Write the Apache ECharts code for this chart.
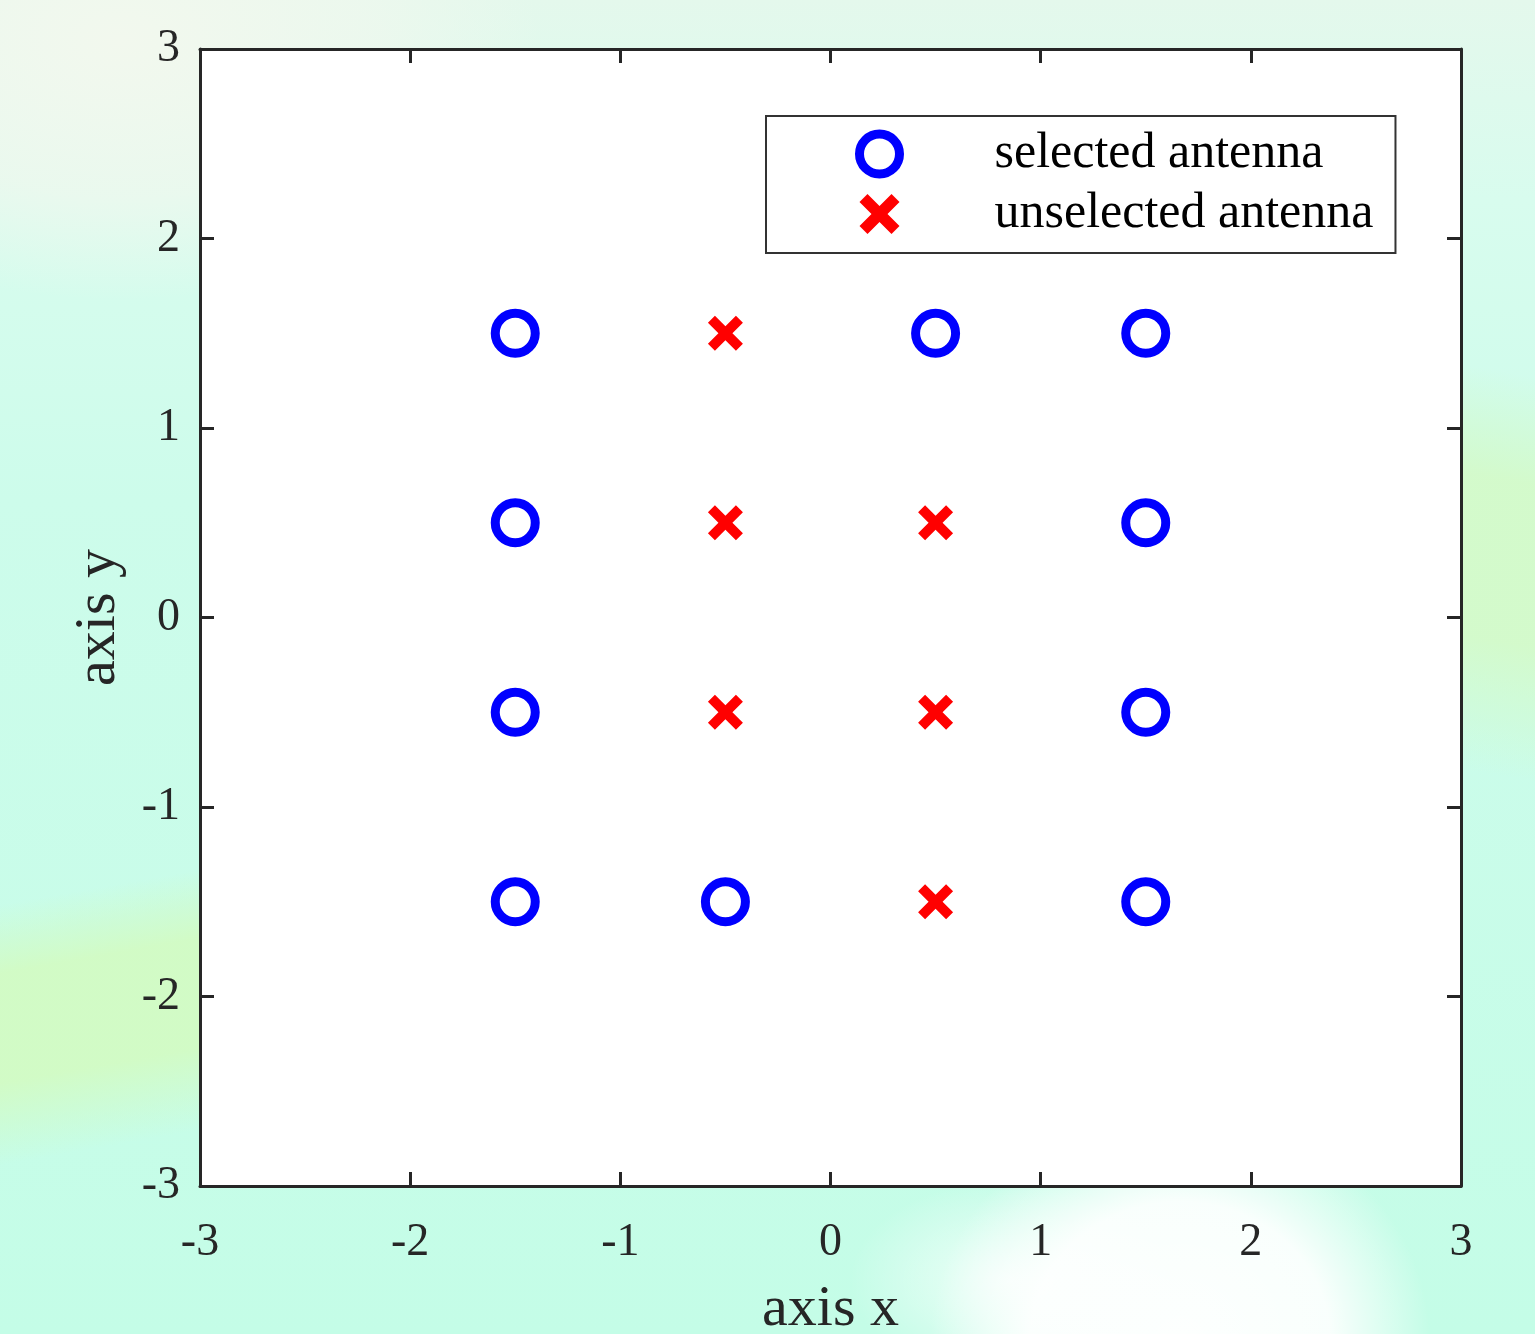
<!DOCTYPE html>
<html>
<head>
<meta charset="utf-8">
<script src="https://cdn.jsdelivr.net/npm/echarts@6/dist/echarts.min.js"></script>
<style>
  html, body { margin: 0; padding: 0; }
  body {
    width: 1535px;
    height: 1334px;
    overflow: hidden;
    background:
      radial-gradient(ellipse 250px 230px at 1180px 1340px, rgba(255,255,255,0.97) 0%, rgba(255,255,255,0.9) 60%, rgba(255,255,255,0) 100%),
      radial-gradient(ellipse 160px 100px at 1010px 1280px, rgba(255,255,255,0.75) 0%, rgba(255,255,255,0) 100%),
      linear-gradient(170deg, rgba(208,252,200,0) 66%, rgba(210,251,196,0.95) 71%, rgba(210,251,196,0.95) 79%, rgba(208,252,200,0) 85%) 0 0 / 210px 1334px no-repeat,
      linear-gradient(190deg, rgba(208,252,200,0) 28%, rgba(212,250,200,0.9) 36%, rgba(212,250,200,0.9) 48%, rgba(208,252,200,0) 58%) 1455px 0 / 80px 1334px no-repeat,
      radial-gradient(ellipse 420px 260px at 120px 40px, rgba(242,248,238,1) 0%, rgba(238,248,238,0.8) 60%, rgba(238,248,238,0) 100%),
      linear-gradient(to bottom, #e4f8ec 0px, #d8fcee 200px, #cdfceb 500px, #c4fde7 1334px);
  }
  #chart { width: 1535px; height: 1334px; }
</style>
</head>
<body>
<div id="chart"></div>
<script>
  // antenna positions (x, y)
  const selectedAntenna = [
    [-1.5, 1.5], [0.5, 1.5], [1.5, 1.5],
    [-1.5, 0.5], [1.5, 0.5],
    [-1.5, -0.5], [1.5, -0.5],
    [-1.5, -1.5], [-0.5, -1.5], [1.5, -1.5],
  ];
  const unselectedAntenna = [
    [-0.5, 1.5],
    [-0.5, 0.5], [0.5, 0.5],
    [-0.5, -0.5], [0.5, -0.5],
    [0.5, -1.5],
  ];
  const axisMin = -3;
  const axisMax = 3;
  const seriesNames = ["selected antenna", "unselected antenna"];

  const FONT = "Liberation Serif, Times New Roman, serif";
  const INK = "#262626";
  const CROSS = "path://M0,20L20,0L50,30L80,0L100,20L70,50L100,80L80,100L50,70L20,100L0,80L30,50Z";

  const frameAxis = (extra) => ({
    type: "value",
    min: axisMin,
    max: axisMax,
    interval: 1,
    axisLine: { show: true, onZero: false, lineStyle: { color: INK, width: 3 } },
    axisTick: { show: true, inside: true, length: 14, lineStyle: { color: INK, width: 3 } },
    splitLine: { show: false },
    ...extra,
  });

  const tickLabel = (margin) => ({
    show: true,
    margin,
    color: INK,
    fontFamily: FONT,
    fontSize: 46,
    showMinLabel: true,
    showMaxLabel: true,
  });

  const chart = echarts.init(document.getElementById("chart"), null, { renderer: "canvas" });

  chart.setOption({
    animation: false,
    backgroundColor: "transparent",
    grid: {
      left: 200, top: 49, width: 1261, height: 1137,
      show: true, backgroundColor: "#ffffff", borderWidth: 0,
      outerBoundsMode: "none",
    },
    legend: {
      orient: "vertical",
      left: 766,
      top: 116,
      padding: [13, 22, 14, 89],
      itemWidth: 40,
      itemHeight: 40,
      itemGap: 10,
      backgroundColor: "#ffffff",
      borderColor: "#333333",
      borderWidth: 2,
      borderRadius: 0,
      selectedMode: false,
      textStyle: { color: "#000000", fontFamily: FONT, fontSize: 50, padding: [0, 0, 0, 90] },
      data: [
        { name: seriesNames[0], itemStyle: { color: "#ffffff", borderColor: "#0000ff", borderWidth: 9 } },
        { name: seriesNames[1], itemStyle: { color: "#ff0000", borderWidth: 0 } },
      ],
    },
    xAxis: [
      frameAxis({
        position: "bottom",
        axisLabel: tickLabel(34),
        name: "axis x",
        nameLocation: "middle",
        nameGap: 95,
        nameTextStyle: { color: INK, fontFamily: FONT, fontSize: 58 },
      }),
      frameAxis({ position: "top", axisLabel: { show: false } }),
    ],
    yAxis: [
      frameAxis({
        position: "left",
        axisLabel: tickLabel(20),
        name: "axis y",
        nameLocation: "middle",
        nameGap: 72,
        nameTextStyle: { color: INK, fontFamily: FONT, fontSize: 58 },
      }),
      frameAxis({ position: "right", axisLabel: { show: false } }),
    ],
    series: [
      {
        name: seriesNames[0],
        type: "scatter",
        xAxisIndex: 0,
        yAxisIndex: 0,
        symbol: "circle",
        symbolSize: 40,
        itemStyle: { color: "#ffffff", borderColor: "#0000ff", borderWidth: 9, opacity: 1 },
        data: selectedAntenna,
      },
      {
        name: seriesNames[1],
        type: "scatter",
        xAxisIndex: 0,
        yAxisIndex: 0,
        symbol: CROSS,
        symbolSize: 35,
        itemStyle: { color: "#ff0000", borderWidth: 0, opacity: 1 },
        data: unselectedAntenna,
      },
    ],
  });
</script>
</body>
</html>
